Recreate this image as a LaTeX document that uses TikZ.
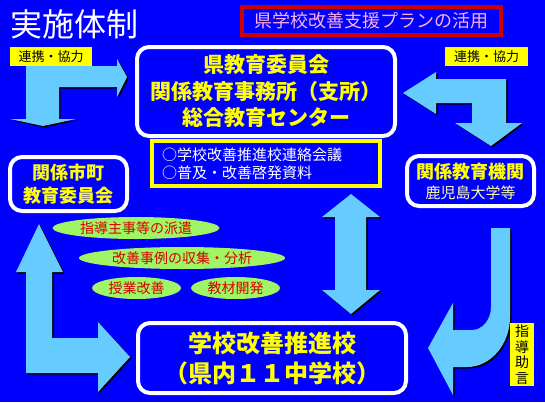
\documentclass[tikz,border=0pt]{standalone}
\usepackage{fontspec}
\usepackage{xcolor}
\usepackage{tikz}
\usetikzlibrary{shapes.geometric,shadows}
\newfontfamily\jp{Noto Sans CJK JP}
\definecolor{bgblue}{RGB}{0,0,255}
\definecolor{arrblue}{RGB}{102,204,255}
\definecolor{boxyellow}{RGB}{255,255,0}
\definecolor{paleyellow}{RGB}{255,255,170}
\definecolor{planred}{RGB}{204,0,0}
\definecolor{planpink}{RGB}{255,175,225}
\definecolor{lime}{RGB}{160,245,100}
\definecolor{elltext}{RGB}{215,0,0}

\begin{document}
\begin{tikzpicture}[x=1pt,y=-1pt,every node/.style={font=\jp},
  blk/.style={fill=arrblue,drop shadow={shadow xshift=1.5pt,shadow yshift=-1.5pt,fill=black,opacity=1}},
  wbox/.style={draw=white,line width=4pt,rounded corners=12pt,fill=bgblue,text=boxyellow,align=center,inner sep=0pt,
    drop shadow={shadow xshift=1.5pt,shadow yshift=-1.5pt,fill=black,opacity=1}},
  tag/.style={fill=boxyellow,text=black,inner sep=0pt,font=\jp\fontsize{13}{13}\selectfont},
  ell/.style={ellipse,fill=lime,text=elltext,inner sep=0pt,minimum height=22pt,font=\jp\fontsize{14}{14}\selectfont}]
\fill[bgblue] (0,0) rectangle (545,402);
\useasboundingbox (0,0) rectangle (545,402);

\node[text=white,font=\jp\fontsize{32}{32}\selectfont] (title) at (74,24) {実施体制};
\node[draw=planred,line width=4pt,fill=bgblue,minimum width=259pt,minimum height=28pt,inner sep=0pt,
  text=planpink,font=\jp\fontsize{18}{18}\selectfont] (plan) at (371.5,21) {県学校改善支援プランの活用};
\node[tag,minimum width=82pt,minimum height=19pt] (renkeiL) at (51,56.5) {連携・協力};
\node[tag,minimum width=83pt,minimum height=19pt] (renkeiR) at (486.5,56.5) {連携・協力};

% block arrows
\fill[blk] (26,119) -- (26,66) -- (117,66) -- (117,59) -- (127,77) -- (117,97) -- (117,87)
  -- (59,87) -- (59,119) -- (76,119) -- (43,126) -- (10,119) -- cycle;
\fill[blk] (403,93) -- (436,72) -- (436,79) -- (506,79) -- (506,123) -- (522,123) -- (491,146)
  -- (455,123) -- (472,123) -- (472,103) -- (436,103) -- (436,114) -- cycle;
\fill[blk] (491,228) -- (510,228) -- (510,317) .. controls (510,344) and (491,367) .. (467,367)
  -- (453,367) -- (453,395) -- (428,348) -- (453,303) -- (453,330) -- (472,330)
  .. controls (482,330) and (491,320) .. (491,307) -- cycle;
\fill[blk] (39,224) -- (63,272) -- (52,272) -- (52,338) -- (98,338) -- (98,322) -- (130,357)
  -- (98,392) -- (98,373) -- (26,373) -- (26,272) -- (16,272) -- cycle;
\fill[blk] (351,194) -- (380,217) -- (366,217) -- (366,290) -- (380,290) -- (351,314)
  -- (322,290) -- (335,290) -- (335,217) -- (322,217) -- cycle;

\node[wbox,minimum width=258pt,minimum height=89pt,font=\jp\bfseries\fontsize{21}{26.5}\selectfont] (kenkyoi) at (266,91.5)
  {県教育委員会\\関係教育事務所（支所）\\総合教育センター};
\node[draw=boxyellow,line width=4pt,fill=bgblue,text=white,text width=208pt,align=left,inner xsep=10pt,inner ysep=0pt,
  minimum height=45pt,font=\jp\fontsize{15}{18}\selectfont] (renraku) at (266,163.5)
  {○学校改善推進校連絡会議\\○普及・改善啓発資料};
\node[wbox,minimum width=117pt,minimum height=54pt,font=\jp\bfseries\fontsize{18}{23}\selectfont] (shicho) at (68.5,184)
  {関係市町\\教育委員会};
\node[wbox,minimum width=127pt,minimum height=50pt,font=\jp\bfseries\fontsize{18}{20}\selectfont] (kikan) at (470.5,181)
  {関係教育機関\\{\fontsize{15}{20}\selectfont\mdseries\color{paleyellow}鹿児島大学等}};
\node[wbox,minimum width=268pt,minimum height=70pt,font=\jp\bfseries\fontsize{24}{30}\selectfont] (suishin) at (272,358)
  {学校改善推進校\\（県内１１中学校）};

\node[ell,minimum width=167pt] (haken) at (136,228) {指導主事等の派遣};
\node[ell,minimum width=206pt] (jirei) at (182,258) {改善事例の収集・分析};
\node[ell,minimum width=89pt] (jugyo) at (136.5,288) {授業改善};
\node[ell,minimum width=89pt] (kyozai) at (235.5,288) {教材開発};

\node[tag,align=center,minimum width=24pt,minimum height=63pt,font=\jp\fontsize{14}{15.5}\selectfont] (jogen) at (522,354.5)
  {指\\導\\助\\言};
\end{tikzpicture}
\end{document}
